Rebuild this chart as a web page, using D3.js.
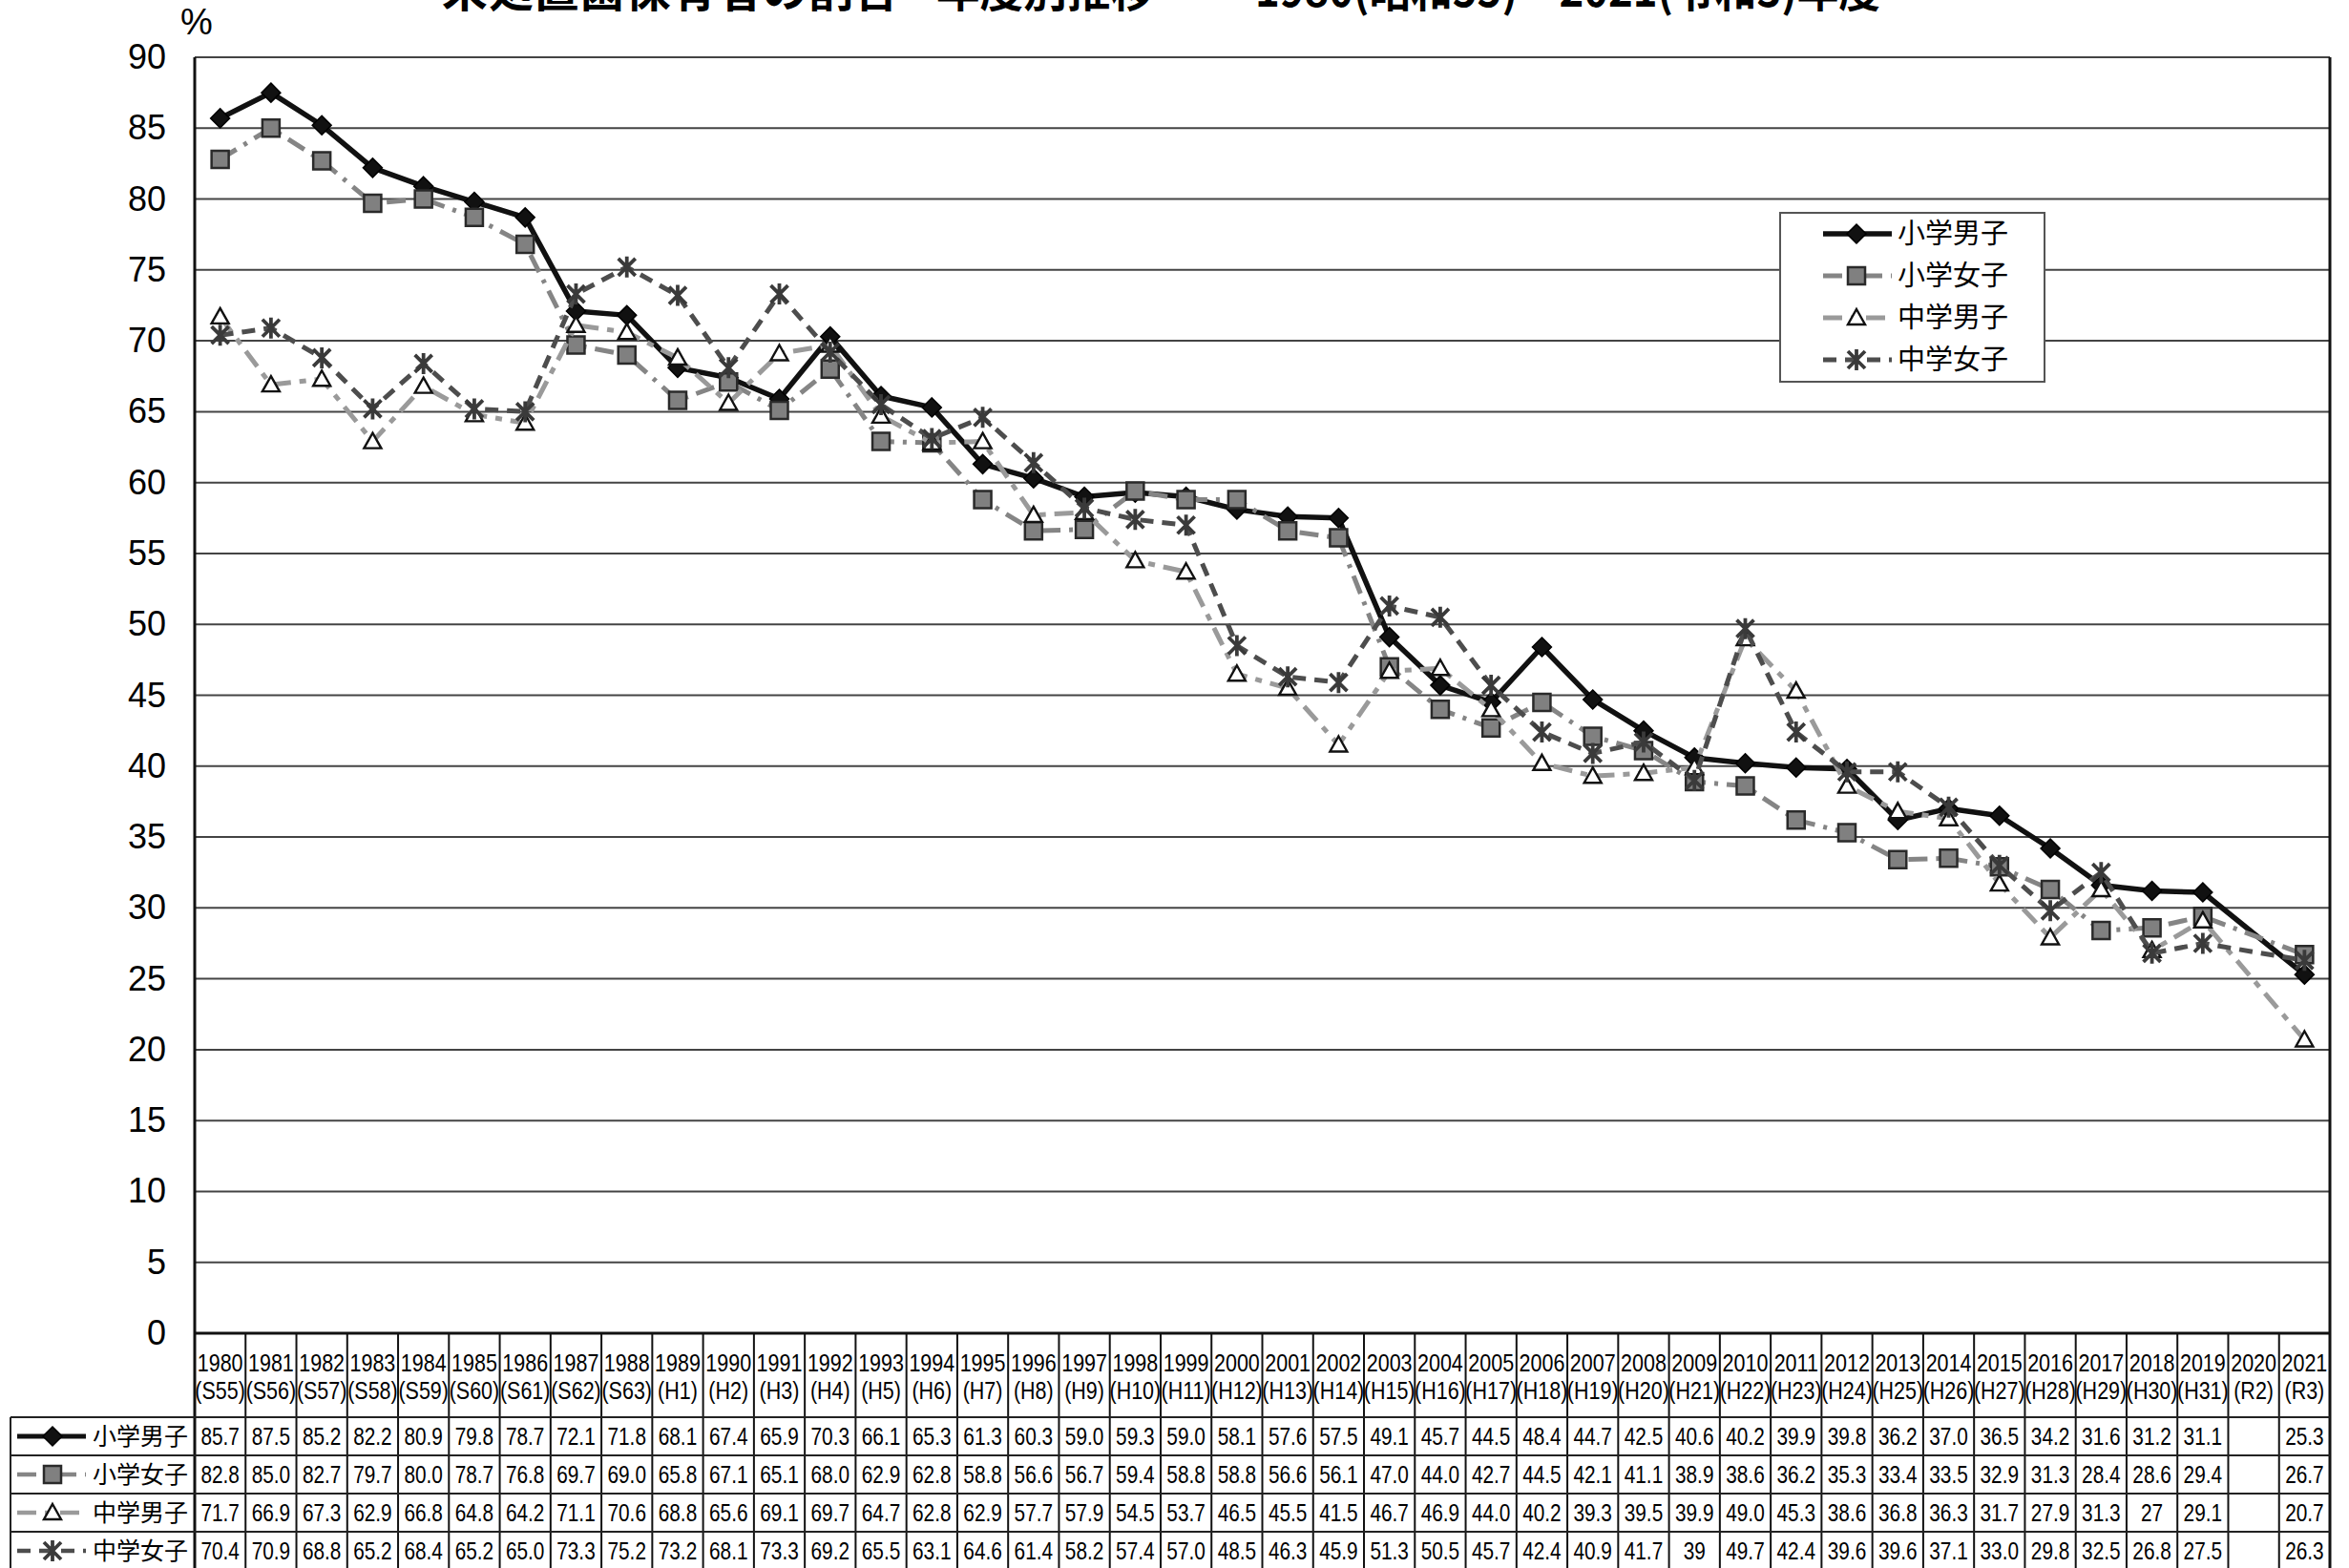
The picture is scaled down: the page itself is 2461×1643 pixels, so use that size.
<!DOCTYPE html>
<html><head><meta charset="utf-8">
<script src="https://cdn.jsdelivr.net/npm/d3@7"></script>
<style>
html,body{margin:0;padding:0;background:#fff;}
svg{display:block;}
text{font-family:"Liberation Sans",Arial,"Noto Sans CJK JP",sans-serif;fill:#000;}
.jp{font-family:"Noto Sans CJK JP","Noto Sans CJK SC",sans-serif;}
</style></head><body>
<svg id="c" width="2461" height="1643"></svg>
<script>
// ---------- data ----------
const years = ["1980","1981","1982","1983","1984","1985","1986","1987","1988","1989","1990","1991","1992","1993","1994","1995","1996","1997","1998","1999","2000","2001","2002","2003","2004","2005","2006","2007","2008","2009","2010","2011","2012","2013","2014","2015","2016","2017","2018","2019","2020","2021"];
const eras = ["(S55)","(S56)","(S57)","(S58)","(S59)","(S60)","(S61)","(S62)","(S63)","(H1)","(H2)","(H3)","(H4)","(H5)","(H6)","(H7)","(H8)","(H9)","(H10)","(H11)","(H12)","(H13)","(H14)","(H15)","(H16)","(H17)","(H18)","(H19)","(H20)","(H21)","(H22)","(H23)","(H24)","(H25)","(H26)","(H27)","(H28)","(H29)","(H30)","(H31)","(R2)","(R3)"];
const seriesNames = ["小学男子","小学女子","中学男子","中学女子"];
const shoBoys  = ["85.7","87.5","85.2","82.2","80.9","79.8","78.7","72.1","71.8","68.1","67.4","65.9","70.3","66.1","65.3","61.3","60.3","59.0","59.3","59.0","58.1","57.6","57.5","49.1","45.7","44.5","48.4","44.7","42.5","40.6","40.2","39.9","39.8","36.2","37.0","36.5","34.2","31.6","31.2","31.1","","25.3"];
const shoGirls = ["82.8","85.0","82.7","79.7","80.0","78.7","76.8","69.7","69.0","65.8","67.1","65.1","68.0","62.9","62.8","58.8","56.6","56.7","59.4","58.8","58.8","56.6","56.1","47.0","44.0","42.7","44.5","42.1","41.1","38.9","38.6","36.2","35.3","33.4","33.5","32.9","31.3","28.4","28.6","29.4","","26.7"];
const chuBoys  = ["71.7","66.9","67.3","62.9","66.8","64.8","64.2","71.1","70.6","68.8","65.6","69.1","69.7","64.7","62.8","62.9","57.7","57.9","54.5","53.7","46.5","45.5","41.5","46.7","46.9","44.0","40.2","39.3","39.5","39.9","49.0","45.3","38.6","36.8","36.3","31.7","27.9","31.3","27","29.1","","20.7"];
const chuGirls = ["70.4","70.9","68.8","65.2","68.4","65.2","65.0","73.3","75.2","73.2","68.1","73.3","69.2","65.5","63.1","64.6","61.4","58.2","57.4","57.0","48.5","46.3","45.9","51.3","50.5","45.7","42.4","40.9","41.7","39","49.7","42.4","39.6","39.6","37.1","33.0","29.8","32.5","26.8","27.5","","26.3"];
const yTicks = [0,5,10,15,20,25,30,35,40,45,50,55,60,65,70,75,80,85,90];
const titleParts = ["未処置歯保有者の割合","年度別推移","1980(昭和55)～2021(令和3)年度"];
const yUnit = "%";

// ---------- layout ----------
const W = 2461, H = 1643;
const plotL = 204, plotR = 2441, plotT = 60, plotB = 1397;
const svg = d3.select("#c");
const x = d3.scaleBand().domain(years).range([plotL, plotR]).paddingInner(0).paddingOuter(0);
const y = d3.scaleLinear().domain([0, 90]).range([plotB, plotT]);
const cx = yr => x(yr) + x.bandwidth() / 2;

const styles = [
  {stroke:"#111", width:5.5, dash:null,        marker:"diamond"},
  {stroke:"#858585", width:5, dash:"20,9,4,9",  marker:"square"},
  {stroke:"#9a9a9a", width:5, dash:"20,9,7,9",  marker:"triangle"},
  {stroke:"#4d4d4d", width:5, dash:"14,9",      marker:"asterisk"}
];
const allSeries = [shoBoys, shoGirls, chuBoys, chuGirls];

function drawMarker(g, type, px, py) {
  if (type === "diamond") {
    g.append("path").attr("transform", `translate(${px},${py})`)
      .attr("d", "M0,-10L10,0L0,10L-10,0Z").attr("fill", "#111").attr("stroke", "#000").attr("stroke-width", 1.5);
  } else if (type === "square") {
    g.append("path").attr("transform", `translate(${px},${py})`)
      .attr("d", "M-9,-9H9V9H-9Z").attr("fill", "#808080").attr("stroke", "#2a2a2a").attr("stroke-width", 2.5);
  } else if (type === "triangle") {
    g.append("path").attr("transform", `translate(${px},${py})`)
      .attr("d", "M0,-9L9,7L-9,7Z").attr("fill", "#fff").attr("stroke", "#111").attr("stroke-width", 2.4);
  } else {
    g.append("path").attr("transform", `translate(${px},${py})`)
      .attr("d", "M-9,-9L9,9M-9,9L9,-9M0,-11L0,11").attr("fill", "none").attr("stroke", "#3a3a3a").attr("stroke-width", 3.8);
  }
}

// ---------- title (cut at top, as in the source) ----------
const titleSpans = [[463, 942], [981, 1209], [1315, 1970]];
titleParts.forEach((t, i) => {
  svg.append("text").attr("class", "jp").attr("x", titleSpans[i][0]).attr("y", 7)
    .attr("font-size", 48).attr("font-weight", "bold")
    .attr("textLength", titleSpans[i][1] - titleSpans[i][0]).attr("lengthAdjust", "spacingAndGlyphs")
    .text(t);
});

// ---------- grid ----------
svg.append("g").selectAll("line").data(yTicks.filter(d => d > 0)).join("line")
  .attr("x1", plotL).attr("x2", plotR).attr("y1", d => y(d)).attr("y2", d => y(d))
  .attr("stroke", "#444").attr("stroke-width", 2);

// y axis labels
const yAxis = d3.axisLeft(y).tickValues(yTicks).tickSize(0).tickPadding(30).tickFormat(d3.format("d"));
const ya = svg.append("g").attr("transform", `translate(${plotL},0)`).call(yAxis);
ya.select(".domain").remove();
ya.selectAll("text").attr("font-size", 36).attr("font-family", "Liberation Sans, Arial, sans-serif").attr("fill", "#000");
svg.append("text").attr("x", 206).attr("y", 36).attr("text-anchor", "middle").attr("font-size", 38).text(yUnit);

// ---------- series ----------
const line = d3.line().x(d => cx(d.yr)).y(d => y(d.v));
allSeries.forEach((arr, si) => {
  const pts = years.map((yr, i) => ({yr, v: arr[i] === "" ? null : +arr[i]})).filter(d => d.v !== null);
  const g = svg.append("g");
  g.append("path").datum(pts).attr("d", line).attr("fill", "none")
    .attr("stroke", styles[si].stroke).attr("stroke-width", styles[si].width)
    .attr("stroke-dasharray", styles[si].dash).attr("stroke-linejoin", "round");
  pts.forEach(d => drawMarker(g, styles[si].marker, cx(d.yr), y(d.v)));
});

// ---------- legend ----------
const lg = svg.append("g");
lg.append("rect").attr("x", 1865).attr("y", 223).attr("width", 277).attr("height", 177)
  .attr("fill", "#fff").attr("stroke", "#555").attr("stroke-width", 2);
const legY = [245, 289, 333, 377];
seriesNames.forEach((n, i) => {
  lg.append("line").attr("x1", 1910).attr("x2", 1982).attr("y1", legY[i]).attr("y2", legY[i])
    .attr("stroke", styles[i].stroke).attr("stroke-width", styles[i].width).attr("stroke-dasharray", styles[i].dash);
  drawMarker(lg, styles[i].marker, 1945, legY[i]);
  lg.append("text").attr("class", "jp").attr("x", 1988).attr("y", legY[i]).attr("dy", "0.36em")
    .attr("font-size", 29).text(n);
});

// ---------- axes / frame ----------
const fr = svg.append("g").attr("stroke", "#111").attr("stroke-width", 2);
fr.append("line").attr("x1", plotL).attr("x2", plotL).attr("y1", plotT).attr("y2", H).attr("stroke-width", 3);
fr.append("line").attr("x1", plotR).attr("x2", plotR).attr("y1", plotT).attr("y2", H).attr("stroke-width", 3);
fr.append("line").attr("x1", plotL).attr("x2", plotR).attr("y1", plotB).attr("y2", plotB).attr("stroke-width", 3);

// ---------- data table ----------
const rowTop = 1485, rowH = 40, tblL = 11;
const tb = svg.append("g");
years.forEach((yr, i) => {
  if (i > 0) tb.append("line").attr("x1", x(yr)).attr("x2", x(yr)).attr("y1", plotB).attr("y2", H)
    .attr("stroke", "#111").attr("stroke-width", 2);
});
[0, 1, 2, 3].forEach(r => {
  tb.append("line").attr("x1", tblL).attr("x2", plotR).attr("y1", rowTop + r * rowH).attr("y2", rowTop + r * rowH)
    .attr("stroke", "#222").attr("stroke-width", 2);
});
tb.append("line").attr("x1", tblL).attr("x2", tblL).attr("y1", rowTop).attr("y2", H).attr("stroke", "#222").attr("stroke-width", 2);

function condText(g, tx, ty, s, size, sx) {
  g.append("text").attr("transform", `translate(${tx},${ty}) scale(${sx},1)`)
    .attr("text-anchor", "middle").attr("dy", "0.36em").attr("font-size", size).text(s);
}
years.forEach((yr, i) => {
  condText(tb, cx(yr), 1428, yr, 25, 0.86);
  condText(tb, cx(yr), 1457, eras[i], 25, 0.86);
  allSeries.forEach((arr, si) => {
    if (arr[i] !== "") condText(tb, cx(yr), rowTop + si * rowH + rowH / 2, arr[i], 26, 0.8);
  });
});
seriesNames.forEach((n, i) => {
  const yy = rowTop + i * rowH + rowH / 2;
  tb.append("line").attr("x1", 18).attr("x2", 90).attr("y1", yy).attr("y2", yy)
    .attr("stroke", styles[i].stroke).attr("stroke-width", styles[i].width - 0.5).attr("stroke-dasharray", styles[i].dash);
  drawMarker(tb, styles[i].marker, 55, yy);
  tb.append("text").attr("class", "jp").attr("x", 97).attr("y", yy).attr("dy", "0.36em")
    .attr("font-size", 25).text(n);
});
</script>
</body></html>
